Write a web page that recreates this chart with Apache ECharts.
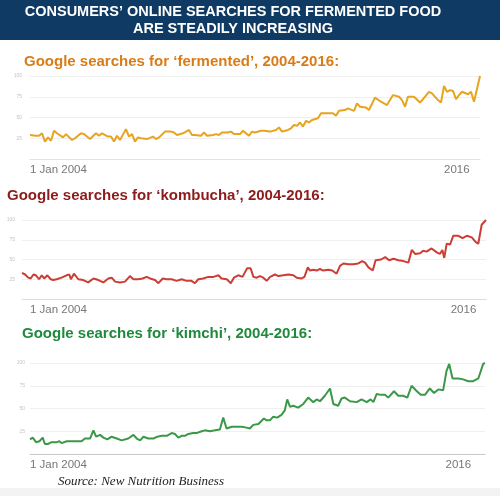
<!DOCTYPE html>
<html>
<head>
<meta charset="utf-8">
<script src="https://cdn.jsdelivr.net/npm/echarts@6/dist/echarts.min.js"></script>
<style>
html,body{margin:0;padding:0;background:#fff;}
#c{width:500px;height:496px;}
</style>
</head>
<body>
<div id="c"></div>
<script>
// Month index since Jan 2004 (0..150) and search interest (0..100)
var fermentedMonths = [0,2,3,4,5,6,7,8,9,11,12,14,15,17,18,20,22,23,24,26,27,28,29,30,32,33,34,35,36,37,39,41,42,43,45,47,48,49,51,53,54,55,57,58,59,61,62,63,64,66,67,68,70,71,72,73,74,75,77,78,80,82,83,84,86,87,88,89,90,91,92,93,94,96,97,99,101,102,103,105,106,108,109,110,112,113,115,117,119,121,123,124,125,126,128,130,131,133,134,136,137,138,139,140,141,142,143,144,146,147,148,150];
var fermentedValues = [29,28,28,31,21,26,22,34,31,26,30,23,25,31,30,24,31,28,31,27,27,21,28,23,36,27,30,21,26,25,24,27,24,26,33,33,32,29,31,35,29,29,28,32,28,29,30,29,32,32,33,30,30,34,31,28,33,32,34,34,33,35,38,33,35,37,41,40,44,39,46,44,47,49,55,55,55,52,58,59,61,58,67,63,62,59,74,69,65,77,75,71,63,75,75,68,72,81,79,71,68,88,81,83,82,72,77,81,78,81,69,100];

var kombuchaMonths = [0,1,2,2.8,3.7,4.5,5.5,6.4,7.2,8.2,9.3,10.1,11.2,12.8,14.4,15.3,15.8,16.8,18.2,19.8,21.4,23.1,24.7,26.3,27.9,29,30.1,31.7,33.3,34.9,36,37.6,39,40.3,41.4,43,44.1,45.5,46.8,48.4,50,51.6,53.2,54.8,55.9,57,58.6,60.2,61.9,63.5,64.5,66.2,67.5,68.5,69.9,71.3,72.1,72.8,73.9,74.8,75.9,76.9,78,79.1,80.2,81.8,82.9,84.5,86.1,87.7,88.8,90.4,91.3,92.4,93.1,94.2,95.3,96.3,97.4,99,100.3,101.7,102.8,103.9,105.5,107.1,108.7,110,110.9,112,113.4,114.3,116.1,117.4,118.7,120.1,121.7,123.3,124.9,126,127.1,128.7,129.7,130.8,132.4,134.1,135.1,135.9,136.5,137.3,138.4,139.4,141.1,142.4,143.8,145.4,146.7,147.5,148.6,150];
var kombuchaValues = [33,31,27,26,31,30,25,30,26,30,25,24,25,27,30,31,25,32,25,24,21,26,24,21,26,27,22,21,22,29,25,25,26,28,26,24,20,26,25,25,23,25,23,23,20,25,26,28,28,30,26,25,20,27,30,28,34,39,39,28,27,29,27,23,28,31,29,30,31,30,27,26,28,40,36,37,36,38,36,37,36,32,42,45,44,44,45,48,46,40,36,49,50,53,49,51,49,48,46,62,57,58,61,60,64,59,57,62,52,70,69,80,80,77,80,78,72,70,94,100];

var kimchiMonths = [0,0.9,2,3.1,4.2,4.9,6,7.1,8.8,9.7,10.4,12.1,13.7,15.4,17,18.1,19.8,20.9,21.8,23.1,24.2,25.5,26.9,28.6,30.2,32.4,34.1,35.2,36.3,37.4,39,40.7,42,43.4,45.1,46.7,47.8,48.9,50,51.1,52.2,53.8,54.9,55.5,56.6,57.7,59.3,61,62.6,63.7,64.8,66.5,68.1,69.8,71.4,72.5,73.6,75.3,77.1,78,79.1,80.2,81.5,82.9,84,84.8,85.7,86.8,88.4,90.1,91.7,93.4,94.5,95.6,97.2,98.9,100,101.6,102.7,103.8,105.5,107.7,109.3,111,112.3,113.2,114.3,115.6,117,118.1,120,121.4,123,124.4,125.8,127.2,128.8,130.2,131.8,133.2,134.6,136.2,137.3,138.2,139.3,141.2,142.8,144.5,146.1,147.8,149.4,150];
var kimchiValues = [16,18,13,14,18,11,11,13,13,14,12,14,14,14,14,17,17,26,19,21,18,16,19,17,15,17,21,17,15,19,17,17,19,20,20,23,22,18,20,20,22,23,23,25,25,26,25,26,27,40,28,30,30,30,29,28,32,33,39,37,37,41,40,43,48,60,52,53,51,55,62,57,60,58,64,72,55,53,61,62,58,57,60,57,60,57,66,65,65,62,69,64,64,62,75,70,65,65,72,67,71,70,91,99,83,83,82,80,80,83,99,100];

var xLabelLeft = '1 Jan 2004';
var xLabelRight = '2016';
var yTicks = [0, 25, 50, 75, 100];

var titleTexts = [
  'Google searches for \u2018fermented\u2019, 2004-2016:',
  'Google searches for \u2018kombucha\u2019, 2004-2016:',
  'Google searches for \u2018kimchi\u2019, 2004-2016:'
];
var headerLines = ['CONSUMERS\u2019 ONLINE SEARCHES FOR FERMENTED FOOD', 'ARE STEADILY INCREASING'];
var sourceText = 'Source: New Nutrition Business';

function pairs(ms, vs){ return ms.map(function(m,i){ return [m, vs[i]]; }); }

var grids = [
  {left:30, right:20, top:76, height:83},
  {left:22, right:14, top:220, height:79},
  {left:30, right:15, top:363, height:91}
];
var yLabelMargins = [8, 7, 5];
var xLabelPadLeft = [0, 8, 0];
var xLabelIntervals = [138, 136, 137];
var axisColors = ['#e2e2e2', '#dcdcdc', '#c8c8c8'];
var lineColors = ['#e8a31f', '#cc3d36', '#3b9849'];
var titleColors = ['#d97c17', '#8e1b1b', '#1f8a3c'];
var titleTops = [54, 188, 326];
var titleLefts = [24, 7, 22];

function makeFormatter(iv){
  return function(v){ return v === 0 ? xLabelLeft : (v === iv ? xLabelRight : ''); };
}

var xAxes = [], yAxes = [], series = [], titles = [];
var dataSets = [pairs(fermentedMonths, fermentedValues), pairs(kombuchaMonths, kombuchaValues), pairs(kimchiMonths, kimchiValues)];
for (var i = 0; i < 3; i++) {
  xAxes.push({
    type:'value', gridIndex:i, min:0, max:150, interval:xLabelIntervals[i],
    splitLine:{show:false}, axisTick:{show:false},
    axisLine:{show:true, lineStyle:{color:axisColors[i], width:1}},
    axisLabel:{show:true, showMaxLabel:false, align:'left', margin:5, color:'#777', fontSize:11.5,
      padding:[0,0,0,xLabelPadLeft[i]],
      fontFamily:'Liberation Sans, Arial, sans-serif',
      formatter:makeFormatter(xLabelIntervals[i])}
  });
  yAxes.push({
    type:'value', gridIndex:i, min:yTicks[0], max:yTicks[yTicks.length-1], interval:25,
    axisLine:{show:false}, axisTick:{show:false},
    splitLine:{show:true, lineStyle:{color:'#efefef', width:1}},
    axisLabel:{show:true, margin:yLabelMargins[i], color:'#c4c4c4', fontSize:5,
      formatter:function(v){ return v === 0 ? '' : String(v); }}
  });
  series.push({
    type:'line', xAxisIndex:i, yAxisIndex:i, data:dataSets[i], showSymbol:false, symbol:'none',
    lineStyle:{color:lineColors[i], width:2}, silent:true, animation:false
  });
  titles.push({
    text:titleTexts[i], left:titleLefts[i], top:titleTops[i], padding:0,
    textStyle:{color:titleColors[i], fontSize:15, fontWeight:'bold', fontFamily:'Liberation Sans, Arial, sans-serif'}
  });
}

var chart = echarts.init(document.getElementById('c'), null, {renderer:'canvas'});
chart.setOption({
  backgroundColor:'#ffffff',
  animation:false,
  title:titles,
  grid:grids,
  xAxis:xAxes,
  yAxis:yAxes,
  series:series,
  graphic:[
    {type:'rect', left:0, top:0, shape:{width:500, height:40}, style:{fill:'#0e3a63'}, z:0},
    {type:'rect', left:0, top:488, shape:{width:500, height:8}, style:{fill:'#f3f3f3'}, z:0},
    {type:'text', x:233, y:11.5, style:{text:headerLines[0], fill:'#ffffff', textAlign:'center', textVerticalAlign:'middle',
      font:'bold 14.5px "Liberation Sans", Arial, sans-serif'}, z:10},
    {type:'text', x:233, y:28.5, style:{text:headerLines[1], fill:'#ffffff', textAlign:'center', textVerticalAlign:'middle',
      font:'bold 14.5px "Liberation Sans", Arial, sans-serif'}, z:10},
    {type:'text', x:58, y:482, style:{text:sourceText, fill:'#222222', textAlign:'left', textVerticalAlign:'middle',
      font:'italic 13px "Liberation Serif", "Times New Roman", serif'}, z:10}
  ]
});
</script>
</body>
</html>
